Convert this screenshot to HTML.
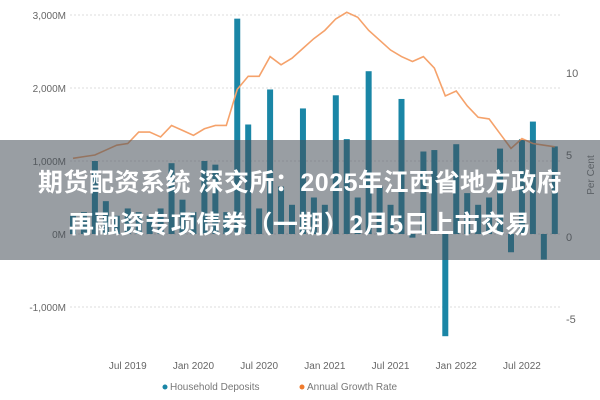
<!DOCTYPE html>
<html><head><meta charset="utf-8"><style>
body{margin:0;width:600px;height:400px;overflow:hidden;background:#fff;font-family:"Liberation Sans",sans-serif}
svg{position:absolute;left:0;top:0}
#band{position:absolute;left:0;top:140px;width:600px;height:120px;background:rgba(70,78,88,0.55)}
#title{position:absolute;left:0;top:162px;width:600px;text-align:center;color:#fff;font:bold 25px/42px "Liberation Sans","Noto Sans CJK SC",sans-serif;letter-spacing:0.5px}
</style></head><body>
<svg id="chart" width="600" height="400"></svg>
<div id="band"></div>
<div id="title">期货配资系统 深交所：2025年江西省地方政府<br>再融资专项债券（一期）2月5日上市交易</div>
<script>
const deposits=[250,300,1000,450,250,350,300,250,350,970,470,300,1000,950,300,2950,1500,350,1980,650,400,1720,500,400,1900,1300,500,2230,650,400,1850,-50,1130,1150,-1400,1230,560,400,500,1170,-250,1300,1540,-350,1200];
const growth=[4.8,4.9,5.0,5.3,5.6,5.7,6.4,6.4,6.1,6.8,6.5,6.2,6.6,6.8,6.8,9.0,9.8,9.8,11.0,10.5,10.9,11.5,12.1,12.6,13.3,13.7,13.4,12.6,12.0,11.4,11.0,10.7,11.0,10.3,8.6,8.9,8.0,7.3,7.2,6.3,5.4,6.0,5.7,5.6,5.5];
const leftTicks=[3000,2000,1000,0,-1000];
const leftLabels=["3,000M","2,000M","1,000M","0M","-1,000M"];
const rightTicks=[10,5,0,-5];
const xLabels=["Jul 2019","Jan 2020","Jul 2020","Jan 2021","Jul 2021","Jan 2022","Jul 2022"];
const xLabelIdx=[5,11,17,23,29,35,41];
const NS="http://www.w3.org/2000/svg";
const svg=document.getElementById('chart');
const X=i=>73+i*10.95;
const YL=v=>234-v*0.073;
const YR=v=>237-v*16.4;
function mk(t,a,txt){const e=document.createElementNS(NS,t);for(const k in a)e.setAttribute(k,a[k]);if(txt!=null)e.textContent=txt;svg.appendChild(e);return e;}
leftTicks.forEach((v,k)=>{
 const g=mk('line',{x1:70,x2:560,y1:YL(v),y2:YL(v),stroke:'#ddd','stroke-dasharray':'2,2'});
 
 
 const t=mk('text',{x:66,y:YL(v)+4,'text-anchor':'end','font-size':10,fill:'#666'},leftLabels[k]);
 
 
});
rightTicks.forEach(v=>{
 const t=mk('text',{x:566,y:YR(v)+4,'font-size':11,fill:'#666'},String(v));
 
 
});
const rt=mk('text',{x:594,y:175,'font-size':10,fill:'#777','text-anchor':'middle',transform:'rotate(-90 594 175)'},'Per Cent');


deposits.forEach((v,i)=>{
 const y0=YL(0),y1=YL(v);
 const b=mk('rect',{x:X(i)-3,y:Math.min(y0,y1),width:6,height:Math.abs(y1-y0),fill:'#1a86a6'});
 
 
});
const p=mk('polyline',{points:growth.map((v,i)=>X(i)+','+YR(v)).join(' '),fill:'none',stroke:'#f5a26b','stroke-width':1.6});


xLabels.forEach((s,k)=>{
 const t=mk('text',{x:X(xLabelIdx[k]),y:369,'text-anchor':'middle','font-size':10,fill:'#666'},s);
 
 
});
const l1=mk('circle',{cx:165,cy:387,r:2.5,fill:'#1a86a6'});


const lt1=mk('text',{x:170,y:390,'font-size':10,fill:'#777'},'Household Deposits');


const l2=mk('circle',{cx:302,cy:387,r:2.5,fill:'#f07b2d'});


const lt2=mk('text',{x:307,y:390,'font-size':10,fill:'#777'},'Annual Growth Rate');


</script>
</body></html>
